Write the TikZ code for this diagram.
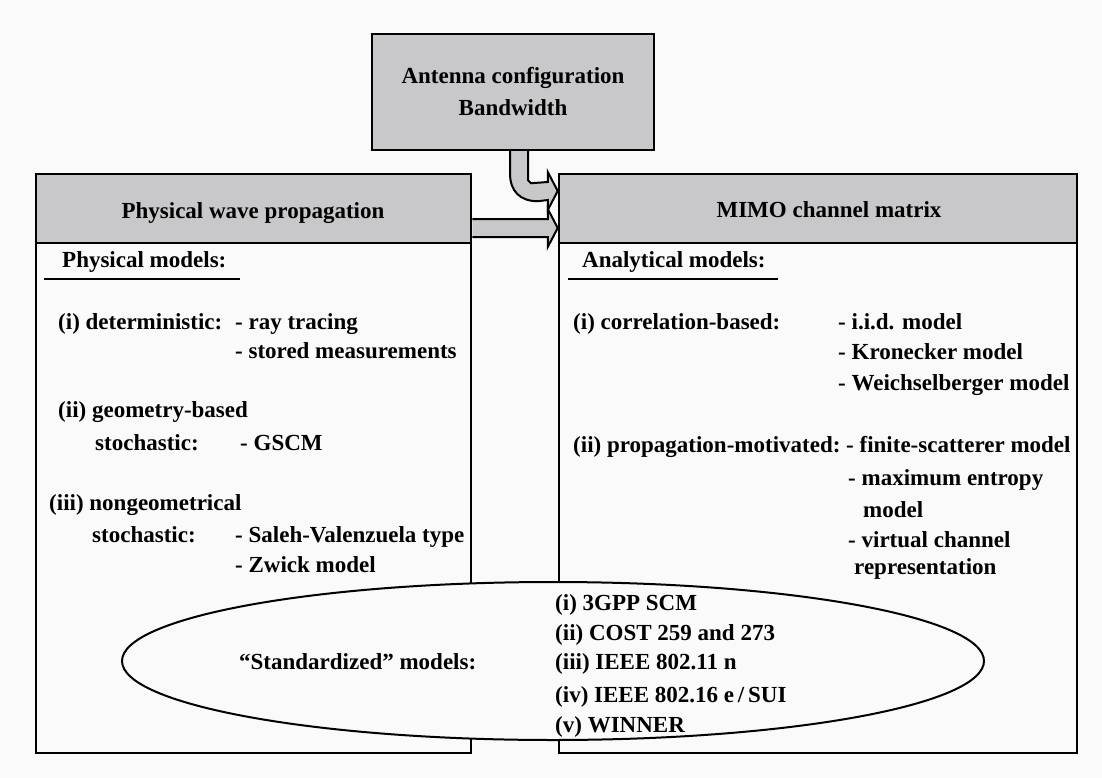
\documentclass[tikz,border=0pt]{standalone}
\usepackage{fontspec}
\setmainfont{Liberation Serif}
\usetikzlibrary{calc,shapes.geometric}
\definecolor{hdr}{RGB}{200,200,202}
\definecolor{bg}{RGB}{250,250,250}
\begin{document}
\begin{tikzpicture}[x=1pt,y=-1pt,
  panel/.style={draw, line width=2.5pt, inner sep=0pt},
  hdrbox/.style={draw, line width=2.5pt, fill=hdr, inner sep=0pt},
  txt/.style={anchor=base west, inner sep=0pt, font=\bfseries\fontsize{23}{30}\selectfont},
  ctxt/.style={anchor=base, inner sep=0pt, font=\bfseries\fontsize{23}{30}\selectfont},
  fat/.style={fill=hdr, draw, line width=2pt, line join=miter},
  uline/.style={line width=2pt}]
\useasboundingbox[fill=bg] (0,0) rectangle (1102,778);

% panels
\node[panel, minimum width=435pt, minimum height=579pt] (L) at (253.5,463.5) {};
\node[hdrbox, minimum width=435pt, minimum height=69pt, anchor=north] (LH) at (L.north) {};
\node[panel, minimum width=518pt, minimum height=579pt] (R) at (818,463.5) {};
\node[hdrbox, minimum width=518pt, minimum height=69pt, anchor=north] (RH) at (R.north) {};
\node[hdrbox, minimum width=282pt, minimum height=116pt, align=center,
      font=\bfseries\fontsize{23}{32}\selectfont] (T) at (513,92) {Antenna configuration\\Bandwidth};

% headers
\node[ctxt] (lht) at (253,218) {Physical wave propagation};
\node[ctxt] (rht) at (829,217) {MIMO channel matrix};

% left content
\node[txt] (pm) at (62,267) {Physical models:};
\coordinate (pu1) at (44,279); \coordinate (pu2) at (240,279);
\draw[uline] (pu1) -- (pu2);
\node[txt] (l1) at (58,329) {(i) deterministic:};
\node[txt] (l1a) at (235,329) {- ray tracing};
\node[txt] (l1b) at (235,358) {- stored measurements};
\node[txt] (l2) at (58,417) {(ii) geometry-based};
\node[txt] (l2s) at (95,450) {stochastic:};
\node[txt] (l2a) at (240,450) {- GSCM};
\node[txt] (l3) at (49,510) {(iii) nongeometrical};
\node[txt] (l3s) at (92,542) {stochastic:};
\node[txt] (l3a) at (235,542) {- Saleh-Valenzuela type};
\node[txt] (l3b) at (235,572) {- Zwick model};

% right content
\node[txt] (am) at (582,267) {Analytical models:};
\coordinate (au1) at (568,279); \coordinate (au2) at (778,279);
\draw[uline] (au1) -- (au2);
\node[txt] (r1) at (573,329) {(i) correlation-based:};
\node[txt] (r1a) at (838,329) {- i.i.d. model};
\node[txt] (r1b) at (838,359) {- Kronecker model};
\node[txt] (r1c) at (838,390) {- Weichselberger model};
\node[txt] (r2) at (573,452) {(ii) propagation-motivated:};
\node[txt] (r2a) at (846,452) {- finite-scatterer model};
\node[txt] (r2b) at (848,485) {- maximum entropy};
\node[txt] (r2c) at (863,517) {model};
\node[txt] (r2d) at (848,547) {- virtual channel};
\node[txt] (r2e) at (854,574) {representation};

% arrows
\coordinate (s1) at ($(T.south)+(6,0)$);
\coordinate (e1) at ($(RH.west)+(0,-17.5)$);
\path[fat] ($(s1)+(-9,0)$) -- ($(s1)+(-9,22)$) .. controls ($(s1)+(-9,40)$) and ($(s1)+(1,50)$) .. ($(s1)+(19,50)$)
  -- ($(e1)+(-10,9)$) -- ($(e1)+(-10,19)$) -- (e1) -- ($(e1)+(-10,-19)$) -- ($(e1)+(-10,-9)$)
  -- ($(s1)+(12,32)$) -- ($(s1)+(9,29)$) -- ($(s1)+(9,0)$);
\coordinate (s2) at ($(LH.east)+(0,19.5)$);
\coordinate (e2) at ($(RH.west)+(0,19.5)$);
\path[fat] ($(s2)+(0,-9)$) -- ($(e2)+(-10,-9)$) -- ($(e2)+(-10,-19)$) -- (e2)
  -- ($(e2)+(-10,19)$) -- ($(e2)+(-10,9)$) -- ($(s2)+(0,9)$);

% ellipse
\node[draw, ellipse, line width=2pt, fill=bg, minimum width=862pt, minimum height=158pt, inner sep=0pt] (E) at (553,661) {};
\node[txt] (sm) at (239,669) {``Standardized'' models:};
\node[txt] (e1t) at (555,610) {(i) 3GPP SCM};
\node[txt] (e2t) at (555,640) {(ii) COST 259 and 273};
\node[txt] (e3t) at (555,669) {(iii) IEEE 802.11 n};
\node[txt] (e4t) at (555,702) {(iv) IEEE 802.16 e\,/\,SUI};
\node[txt] (e5t) at (555,732) {(v) WINNER};
\end{tikzpicture}
\end{document}
